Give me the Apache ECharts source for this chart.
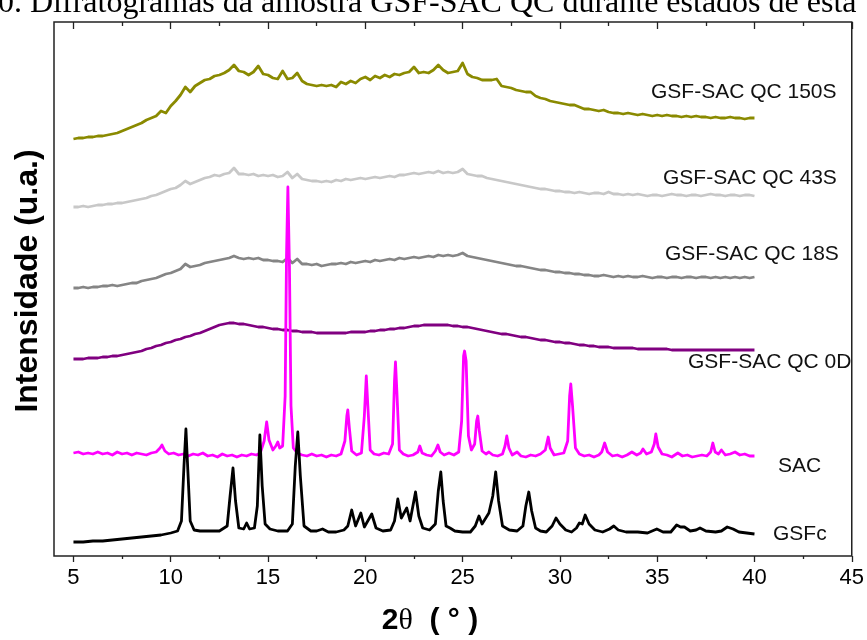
<!DOCTYPE html>
<html>
<head>
<meta charset="utf-8">
<script src="https://cdn.jsdelivr.net/npm/echarts@6/dist/echarts.min.js"></script>
<style>
  html, body { margin: 0; padding: 0; background: #fff; }
  #chart { width: 867px; height: 640px; }
</style>
</head>
<body>
<div id="chart"></div>
<script>
// Diffractograms of the GSF-SAC QC sample, stacked with vertical offsets (a.u.)

// amorphous patterns share one 2θ grid: 5° to 40° every 0.25°
const twoThetaStart = 5;
const twoThetaStep = 0.25;

const qc150S = [
  417,418,418,419, 419,420,420,421, 422,423,425,427, 429,431,433,436,
  438,440,445,443, 450,455,461,469, 464,470,473,476, 477,480,481,483,
  486,491,485,484, 481,484,490,482, 481,478,477,485, 477,478,483,475,
  472,471,470,471, 470,471,469,474, 472,475,473,477, 479,476,480,478,
  481,479,482,481, 483,484,489,483, 484,483,486,491, 486,483,484,485,
  493,482,479,478, 476,476,476,477, 470,469,468,466, 465,464,464,460,
  458,457,455,454, 453,452,451,451, 449,447,447,446, 445,446,444,443,
  443,442,443,442, 441,442,441,440, 441,440,441,440, 440,439,440,439,
  440,439,439,438, 439,438,438,439, 438,438,437,438, 438
];

const qc43S = [
  349,349,350,349, 350,351,351,352, 352,353,353,354, 355,356,357,358,
  360,361,363,365, 367,368,371,375, 372,374,376,378, 379,381,380,382,
  383,388,382,382, 381,382,380,381, 380,381,379,380, 384,378,382,377,
  376,375,375,374, 375,374,376,375, 377,376,377,378, 377,378,379,378,
  379,380,379,381, 381,382,383,382, 383,384,383,385, 383,384,383,384,
  387,382,381,380, 380,378,377,376, 375,374,373,372, 371,370,369,368,
  367,367,366,365, 365,364,364,363, 364,363,362,363, 363,362,364,362,
  362,361,362,361, 362,361,360,361, 361,360,361,362, 361,361,360,361,
  361,360,361,362, 361,361,360,361, 361,360,361,361, 360
];

const qc18S = [
  268,268,269,268, 269,269,270,270, 271,270,271,272, 273,273,275,276,
  277,278,280,282, 283,285,287,292, 289,290,291,293, 294,295,296,297,
  298,300,298,297, 298,297,298,296, 296,295,295,294, 298,293,297,292,
  292,291,292,290, 291,292,292,293, 292,294,293,294, 295,294,296,295,
  296,297,296,298, 297,298,299,298, 299,300,299,301, 300,301,300,301,
  303,300,299,298, 297,296,295,294, 293,292,291,290, 290,289,288,287,
  286,286,285,284, 284,283,283,282, 282,281,281,280, 280,281,280,279,
  280,279,280,279, 279,280,279,278, 279,279,278,279, 279,278,279,279,
  278,279,279,278, 279,278,279,278, 279,278,279,278, 279
];

const qc0D = [
  197,197,197,198, 198,198,199,199, 200,200,201,202, 203,204,205,207,
  208,210,211,213, 214,216,217,219, 220,222,223,225, 227,229,231,232,
  233,233,232,232, 231,230,229,229, 228,227,227,226, 226,225,225,224,
  224,224,223,223, 223,223,223,223, 223,224,224,224, 224,225,225,226,
  226,227,227,228, 228,229,230,230, 231,231,231,231, 231,231,230,230,
  229,229,228,227, 226,225,224,223, 222,222,221,220, 219,219,218,217,
  216,216,215,214, 214,213,213,212, 211,211,210,210, 209,209,209,208,
  208,208,208,208, 207,207,207,207, 207,207,207,206, 206,206,206,206,
  206,206,206,206, 206,206,206,206, 206,206,206,206, 206
];

// crystalline patterns as [2θ, intensity] pairs
const sac = [
  [5.0,103],[5.25,104],[5.5,102],[5.75,103],[6.0,102],[6.25,104],[6.5,102],[6.75,103],
  [7.0,101],[7.25,104],[7.5,102],[7.75,103],[8.0,101],[8.25,103],[8.5,102],[8.75,101],
  [9.0,103],[9.25,104],[9.45,108],[9.55,111],[9.7,105],[9.9,102],[10.15,103],[10.4,101],
  [10.65,102],[10.9,100],[11.15,102],[11.4,101],[11.65,103],[11.9,100],[12.15,101],[12.4,99],
  [12.65,102],[12.9,100],[13.15,101],[13.4,99],[13.65,101],[13.9,100],[14.15,102],[14.4,101],
  [14.6,103],[14.8,115],[14.93,134],[15.05,116],[15.25,106],[15.4,110],[15.5,114],[15.6,108],
  [15.75,110],[15.88,160],[15.95,300],[16.02,369],[16.1,290],[16.18,150],[16.3,108],[16.5,103],
  [16.75,101],[17.0,100],[17.25,102],[17.5,100],[17.75,101],[18.0,99],[18.25,101],[18.5,100],
  [18.75,102],[18.95,115],[19.05,140],[19.1,146],[19.18,128],[19.3,105],[19.55,101],[19.8,103],
  [19.95,140],[20.05,180],[20.13,150],[20.25,106],[20.45,102],[20.7,101],[20.95,103],[21.2,102],
  [21.4,112],[21.5,175],[21.55,194],[21.62,165],[21.75,106],[21.95,102],[22.2,100],[22.45,101],
  [22.7,104],[22.8,110],[22.92,103],[23.15,101],[23.4,100],[23.6,105],[23.73,111],[23.85,104],
  [24.05,101],[24.3,103],[24.55,101],[24.8,104],[24.95,135],[25.05,200],[25.1,205],[25.18,195],
  [25.3,120],[25.45,106],[25.62,112],[25.72,135],[25.78,140],[25.86,125],[26.0,105],[26.2,102],
  [26.35,104],[26.55,101],[26.8,100],[27.05,102],[27.18,110],[27.27,120],[27.38,108],[27.55,101],
  [27.8,104],[28.0,100],[28.25,99],[28.5,101],[28.75,100],[29.0,102],[29.25,106],[29.4,119],
  [29.5,108],[29.7,101],[29.95,102],[30.2,103],[30.4,115],[30.5,160],[30.56,172],[30.65,150],
  [30.8,108],[31.0,102],[31.25,100],[31.5,101],[31.75,99],[32.0,101],[32.15,104],[32.3,113],
  [32.45,104],[32.7,100],[32.95,101],[33.2,99],[33.45,101],[33.7,104],[33.95,101],[34.15,103],
  [34.27,107],[34.45,102],[34.7,104],[34.85,112],[34.93,122],[35.05,109],[35.25,102],[35.5,101],
  [35.75,99],[36.06,103],[36.3,100],[36.55,101],[36.8,99],[37.05,100],[37.3,101],[37.55,100],
  [37.75,104],[37.86,113],[37.98,104],[38.15,102],[38.3,106],[38.5,101],[38.75,102],[39.0,104],
  [39.25,101],[39.5,102],[39.75,100],[40.0,100]
];

const gsfc = [
  [5.0,14],[5.5,14],[6.0,15],[6.5,15],[7.0,16],[7.5,17],[8.0,18],[8.5,19],[9.0,20],[9.5,21],
  [10.0,23],[10.35,25],[10.55,35],[10.68,90],[10.78,127],[10.88,85],[11.0,35],[11.2,26],
  [11.5,25],[12.0,25],[12.5,25],[12.9,30],[13.05,60],[13.2,88],[13.33,55],[13.5,28],
  [13.75,27],[13.9,33],[14.05,27],[14.3,28],[14.45,50],[14.58,121],[14.7,70],[14.85,32],
  [15.1,27],[15.5,25],[16.0,25],[16.25,32],[16.4,90],[16.53,124],[16.66,80],[16.85,30],
  [17.2,25],[17.5,25],[17.8,27],[18.1,24],[18.5,24],[18.9,26],[19.1,30],[19.3,46],
  [19.5,30],[19.77,43],[19.95,29],[20.33,42],[20.55,28],[20.9,25],[21.3,26],[21.5,35],
  [21.67,57],[21.85,38],[22.13,48],[22.3,35],[22.58,64],[22.75,40],[22.95,28],[23.3,26],
  [23.6,32],[23.75,65],[23.88,84],[24.0,55],[24.15,30],[24.35,28],[24.6,25],[25.0,24],
  [25.4,24],[25.65,30],[25.84,40],[26.0,32],[26.35,43],[26.55,60],[26.7,84],[26.85,55],
  [27.05,30],[27.4,26],[27.8,25],[28.1,30],[28.25,50],[28.4,64],[28.55,45],[28.75,28],
  [29.0,25],[29.3,24],[29.6,30],[29.8,38],[30.0,32],[30.3,26],[30.6,24],[30.85,28],
  [31.0,33],[31.15,32],[31.3,41],[31.5,32],[31.8,26],[32.2,24],[32.55,27],[32.77,30],
  [33.0,26],[33.4,24],[34.0,24],[34.5,23],[34.98,27],[35.3,24],[35.7,24],[36.0,31],
  [36.2,29],[36.4,29],[36.7,25],[37.0,26],[37.2,28],[37.5,25],[38.0,24],[38.3,25],
  [38.6,29],[38.9,27],[39.2,24],[39.6,23],[40.0,22]
];

const majorTicks = [5, 10, 15, 20, 25, 30, 35, 40, 45];
const minorTicks = [7.5, 12.5, 17.5, 22.5, 27.5, 32.5, 37.5, 42.5];

const seriesNames = ['GSF-SAC QC 150S', 'GSF-SAC QC 43S', 'GSF-SAC QC 18S', 'GSF-SAC QC 0D', 'SAC', 'GSFc'];
const seriesColors = ['#8a8a00', '#c8c8c8', '#858585', '#800080', '#ff00ff', '#000000'];

const sans = '"Liberation Sans", Arial, sans-serif';
const serif = '"Liberation Serif", "Times New Roman", serif';

function onGrid(values) {
  return values.map((v, i) => [twoThetaStart + i * twoThetaStep, v]);
}

const seriesData = [onGrid(qc150S), onGrid(qc43S), onGrid(qc18S), onGrid(qc0D), sac, gsfc];

const frameColor = '#222';

function tickAxis(position, ticks, len, inside, labels) {
  return {
    type: 'value', min: 4, max: 45, position: position,
    axisLine: { show: false },
    splitLine: { show: false },
    axisTick: { show: true, customValues: ticks, length: len, inside: inside,
                lineStyle: { color: frameColor, width: 1.3 } },
    axisLabel: labels
      ? { show: true, customValues: ticks, fontSize: 22, fontFamily: sans, color: '#000', margin: 11 }
      : { show: false }
  };
}

const chart = echarts.init(document.getElementById('chart'), null, { renderer: 'canvas' });

chart.setOption({
  animation: false,
  backgroundColor: '#fff',
  grid: { left: 54, right: 15, top: 22, bottom: 84, show: true,
          borderColor: frameColor, borderWidth: 1.5, backgroundColor: 'transparent' },
  xAxis: [
    tickAxis('bottom', majorTicks, 6, false, true),
    tickAxis('bottom', minorTicks, 3, false, false),
    tickAxis('top', majorTicks, 7, true, false),
    tickAxis('top', minorTicks, 4, true, false)
  ],
  yAxis: {
    type: 'value', min: 0, max: 534,
    axisLine: { show: false }, axisTick: { show: false },
    axisLabel: { show: false }, splitLine: { show: false }
  },
  series: seriesData.map((d, i) => ({
    name: seriesNames[i],
    type: 'line',
    xAxisIndex: 0,
    data: d,
    showSymbol: false,
    symbol: 'none',
    silent: true,
    lineStyle: { color: seriesColors[i], width: 2.8, join: 'round' }
  })),
  graphic: [
    { type: 'text', x: -2, y: 4,
      style: { text: '0. Difratogramas da amostra GSF-SAC QC durante estados de esta',
               font: '32px ' + serif, fill: '#000', verticalAlign: 'middle', align: 'left' } },
    { type: 'text', x: 651, y: 92, style: { text: seriesNames[0], font: '21px ' + sans, fill: '#111', verticalAlign: 'middle' } },
    { type: 'text', x: 663, y: 178, style: { text: seriesNames[1], font: '21px ' + sans, fill: '#111', verticalAlign: 'middle' } },
    { type: 'text', x: 665, y: 254, style: { text: seriesNames[2], font: '21px ' + sans, fill: '#111', verticalAlign: 'middle' } },
    { type: 'text', x: 688, y: 362, z: 100, style: { text: seriesNames[3], font: '21px ' + sans, fill: '#111', verticalAlign: 'middle' } },
    { type: 'text', x: 778, y: 466, style: { text: seriesNames[4], font: '21px ' + sans, fill: '#111', verticalAlign: 'middle' } },
    { type: 'text', x: 773, y: 534, style: { text: seriesNames[5], font: '21px ' + sans, fill: '#111', verticalAlign: 'middle' } },
    { type: 'text', x: 28, y: 281, rotation: Math.PI / 2,
      style: { text: 'Intensidade (u.a.)', font: 'bold 32px ' + sans, fill: '#000',
               align: 'center', verticalAlign: 'middle' } },
    { type: 'text', x: 430, y: 621,
      style: { text: '{a|2}{b|θ}{a|  ( ° )}', align: 'center', verticalAlign: 'middle',
               rich: {
                 a: { fontFamily: sans, fontWeight: 'bold', fontSize: 30, fill: '#000', color: '#000' },
                 b: { fontFamily: serif, fontSize: 30, fill: '#000', color: '#000' }
               } } }
  ]
});
</script>
</body>
</html>
